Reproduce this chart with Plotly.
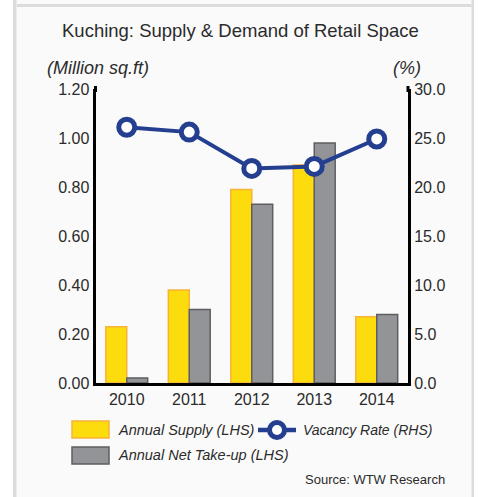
import plotly.graph_objects as go

# Kuching retail space: annual supply, net take-up and vacancy rate
years = ["2010", "2011", "2012", "2013", "2014"]
annual_supply = [0.23, 0.38, 0.79, 0.89, 0.27]      # million sq.ft (LHS)
annual_take_up = [0.02, 0.30, 0.73, 0.98, 0.28]     # million sq.ft (LHS)
vacancy_rate = [26.1, 25.6, 21.9, 22.1, 24.9]       # % (RHS)

left_ticks = [0.0, 0.2, 0.4, 0.6, 0.8, 1.0, 1.2]
right_ticks = [0.0, 5.0, 10.0, 15.0, 20.0, 25.0, 30.0]

W, H = 478, 497
FONT = "Liberation Sans, Arial, sans-serif"
YELLOW, YELLOW_EDGE = "#FCDC0C", "#F6B33A"
GREY, GREY_EDGE = "#929497", "#5E5E60"
NAVY = "#243F8F"
TEXT = "#2B2B2B"


def px(x):
    return x / W


def py(y):
    return 1 - y / H


fig = go.Figure()
fig.add_trace(go.Bar(
    x=years, y=annual_supply, name="Annual Supply (LHS)",
    marker=dict(color=YELLOW, line=dict(color=YELLOW_EDGE, width=1.5)),
))
fig.add_trace(go.Bar(
    x=years, y=annual_take_up, name="Annual Net Take-up (LHS)",
    marker=dict(color=GREY, line=dict(color=GREY_EDGE, width=1.5)),
))
fig.add_trace(go.Scatter(
    x=years, y=vacancy_rate, name="Vacancy Rate (RHS)", yaxis="y2",
    mode="lines+markers",
    line=dict(color=NAVY, width=4),
    marker=dict(size=16, color="white", line=dict(color=NAVY, width=5)),
    cliponaxis=False,
))

shapes = [
    # panel frame
    dict(type="rect", xref="paper", yref="paper", x0=0, x1=px(13), y0=0, y1=1,
         fillcolor="white", line_width=0, layer="below"),
    dict(type="rect", xref="paper", yref="paper", x0=px(474), x1=1, y0=0, y1=1,
         fillcolor="white", line_width=0, layer="below"),
    dict(type="rect", xref="paper", yref="paper", x0=px(13), x1=px(16.5), y0=0, y1=1,
         fillcolor="#DCDCDC", line_width=0, layer="below"),
    dict(type="rect", xref="paper", yref="paper", x0=px(471.5), x1=px(474), y0=0, y1=1,
         fillcolor="#DCDCDC", line_width=0, layer="below"),
    dict(type="rect", xref="paper", yref="paper", x0=px(17), x1=px(471.5), y0=py(4), y1=py(7),
         fillcolor="#DCDCDC", line_width=0, layer="below"),
    # left axis line runs slightly past the top tick
    dict(type="line", xref="paper", yref="paper", x0=px(95.5), x1=px(95.5),
         y0=py(92), y1=py(86), line=dict(color="black", width=3)),
    dict(type="line", xref="paper", yref="paper", x0=px(408), x1=px(408),
         y0=py(92), y1=py(86), line=dict(color="black", width=3)),
    # legend swatches
    dict(type="rect", xref="paper", yref="paper", x0=px(72), x1=px(109), y0=py(438), y1=py(421),
         fillcolor=YELLOW, line=dict(color=YELLOW_EDGE, width=1.5)),
    dict(type="rect", xref="paper", yref="paper", x0=px(72), x1=px(109), y0=py(464), y1=py(447),
         fillcolor=GREY, line=dict(color=GREY_EDGE, width=1.5)),
    dict(type="line", xref="paper", yref="paper", x0=px(258), x1=px(296), y0=py(430), y1=py(430),
         line=dict(color=NAVY, width=4.5)),
    dict(type="circle", xref="paper", yref="paper", x0=px(269.5), x1=px(284.5),
         y0=py(437.5), y1=py(422.5), fillcolor="white", line=dict(color=NAVY, width=5)),
]

legend_font = dict(family=FONT, size=14.5, color=TEXT)
annotations = [
    dict(text="Kuching: Supply & Demand of Retail Space", x=px(240), y=py(31),
         xref="paper", yref="paper", showarrow=False, xanchor="center", yanchor="middle",
         font=dict(family=FONT, size=18.5, color=TEXT)),
    dict(text="<i>(Million sq.ft)</i>", x=px(45), y=py(68),
         xref="paper", yref="paper", showarrow=False, xanchor="left", yanchor="middle",
         font=dict(family=FONT, size=18, color=TEXT)),
    dict(text="<i>(%)</i>", x=px(423), y=py(68),
         xref="paper", yref="paper", showarrow=False, xanchor="right", yanchor="middle",
         font=dict(family=FONT, size=18, color=TEXT)),
    dict(text="<i>" + fig.data[0].name + "</i>", x=px(116), y=py(430),
         xref="paper", yref="paper", showarrow=False, xanchor="left", yanchor="middle",
         font=legend_font),
    dict(text="<i>" + fig.data[1].name + "</i>", x=px(116), y=py(455),
         xref="paper", yref="paper", showarrow=False, xanchor="left", yanchor="middle",
         font=legend_font),
    dict(text="<i>" + fig.data[2].name + "</i>", x=px(301), y=py(430),
         xref="paper", yref="paper", showarrow=False, xanchor="left", yanchor="middle",
         font=dict(family=FONT, size=14, color=TEXT)),
    dict(text="Source: WTW Research", x=px(447), y=py(479),
         xref="paper", yref="paper", showarrow=False, xanchor="right", yanchor="middle",
         font=dict(family=FONT, size=13, color=TEXT)),
]

fig.update_layout(
    width=W, height=H,
    margin=dict(l=0, r=0, t=0, b=0, autoexpand=False),
    paper_bgcolor="#FAFAFA", plot_bgcolor="rgba(0,0,0,0)",
    showlegend=False,
    barmode="group", bargap=0.33, bargroupgap=0,
    font=dict(family=FONT, size=16, color=TEXT),
    xaxis=dict(
        domain=[px(95.5), px(408)], showline=True, linecolor="black", linewidth=3,
        showgrid=False, ticks="", tickfont=dict(size=16), automargin=False,
        fixedrange=True,
    ),
    yaxis=dict(
        domain=[py(383), py(89)], range=[0, 1.2], tickvals=left_ticks,
        tickformat=".2f", showline=True, linecolor="black", linewidth=3,
        showgrid=False, zeroline=False, ticks="", tickfont=dict(size=16),
        automargin=False,
    ),
    yaxis2=dict(
        overlaying="y", side="right", range=[0, 30], tickvals=right_ticks,
        tickformat=".1f", showline=True, linecolor="black", linewidth=3,
        showgrid=False, zeroline=False, ticks="", tickfont=dict(size=16),
        automargin=False,
    ),
    shapes=shapes, annotations=annotations,
)

fig.write_html("out.html")
